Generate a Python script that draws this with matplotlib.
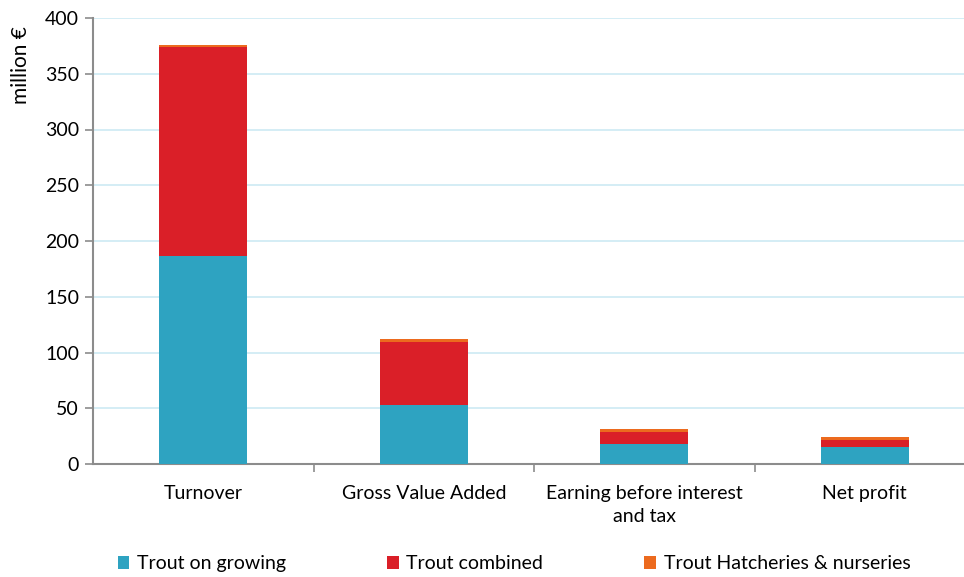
import matplotlib
matplotlib.use("Agg")
import matplotlib.pyplot as plt
import numpy as np

categories = ["Turnover", "Gross Value Added", "Earning before interest\nand tax", "Net profit"]
ongrowing = [186.5, 52.9, 18.2, 15.0]
combined = [187.5, 56.8, 10.8, 6.8]
hatcheries = [2.2, 2.0, 2.1, 2.2]
yticks = [0, 50, 100, 150, 200, 250, 300, 350, 400]

plt.rcParams["font.family"] = ["Lato", "DejaVu Sans"]

fig = plt.figure(figsize=(9.64, 5.77), dpi=100)
ax = fig.add_axes([93 / 964, 113 / 577, 882 / 964, 446 / 577])

x = np.arange(len(categories))
w = 0.4
b1 = ax.bar(x, ongrowing, w, color="#2ea3c1", label="Trout on growing", zorder=3)
b2 = ax.bar(x, combined, w, bottom=ongrowing, color="#da1f28", label="Trout combined", zorder=3)
bottom2 = np.array(ongrowing) + np.array(combined)
b3 = ax.bar(x, hatcheries, w, bottom=bottom2, color="#ec6a1e", label="Trout Hatcheries & nurseries", zorder=3)

ax.set_xlim(-0.5, len(categories) - 0.5)
ax.set_ylim(0, 400)
ax.set_yticks(yticks)
ax.yaxis.grid(True, color="#cdeaf3", linewidth=1.2, zorder=0)

ax.set_xticks(x)
ax.set_xticklabels(categories, fontsize=14, linespacing=1.45)
ax.tick_params(axis="x", length=0, pad=15)
ax.set_xticks(np.arange(0.5, len(categories) - 0.5, 1), minor=True)
ax.tick_params(axis="x", which="minor", length=6, color="#8c8c8c", width=1.2)
ax.tick_params(axis="y", length=6, color="#8c8c8c", width=1.2, labelsize=14, pad=4)

for side in ["top", "right"]:
    ax.spines[side].set_visible(False)
for side in ["left", "bottom"]:
    ax.spines[side].set_color("#8c8c8c")
    ax.spines[side].set_linewidth(1.5)

ax.set_ylabel("million €", fontsize=15)
ax.yaxis.set_label_coords(-0.07, 0.895)

fig.legend(handles=[b1, b2, b3], loc="lower left", bbox_to_anchor=(100 / 964, -0.022),
           ncol=3, frameon=False, fontsize=14, handlelength=0.6, handleheight=0.6,
           handletextpad=0.4, columnspacing=5.2)

fig.savefig("out.png", dpi=100)
